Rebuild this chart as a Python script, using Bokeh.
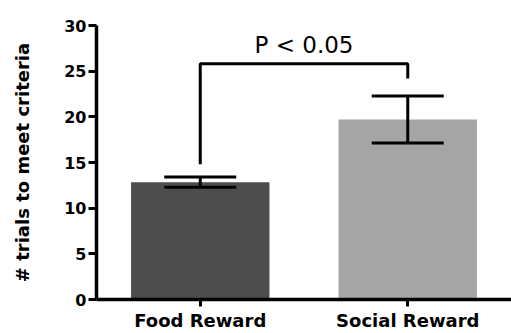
from bokeh.plotting import figure
from bokeh.models import Range1d, FixedTicker, Whisker, ColumnDataSource, Label, TeeHead
from bokeh.embed import file_html
from bokeh.resources import INLINE

# ---- data ----
categories = ["Food Reward", "Social Reward"]
means = [12.85, 19.7]
sems = [0.55, 2.57]
bar_colors = ["#4d4d4d", "#a5a5a5"]
y_ticks = [0, 5, 10, 15, 20, 25, 30]
bracket_ys = [14.8, 25.8, 25.8, 24.2]
p_text = "P < 0.05"
p_text_y = 27.9

x_pos = [i + 0.5 for i in range(len(categories))]

src = ColumnDataSource(dict(
    x=x_pos,
    top=means,
    upper=[m + s for m, s in zip(means, sems)],
    lower=[m - s for m, s in zip(means, sems)],
    color=bar_colors,
))

FONT = "DejaVu Sans"

p = figure(width=511, height=333, output_backend="svg", toolbar_location=None,
           x_range=Range1d(0, 2.0), y_range=Range1d(0, 30),
           min_border_left=96, min_border_top=25, min_border_right=0,
           min_border_bottom=0)

p.vbar(x="x", top="top", width=0.667, bottom=0, fill_color="color",
       line_color=None, source=src)

wh = Whisker(base="x", upper="upper", lower="lower", source=src,
             line_width=3, line_color="black", level="annotation",
             upper_head=TeeHead(size=72, line_width=3, line_color="black"),
             lower_head=TeeHead(size=72, line_width=3, line_color="black"))
p.add_layout(wh)

p.line(x=[x_pos[0], x_pos[0], x_pos[1], x_pos[1]], y=bracket_ys,
       line_width=3, line_color="black")

p.add_layout(Label(x=(x_pos[0] + x_pos[1]) / 2, y=p_text_y, text=p_text,
                   text_align="center", text_baseline="alphabetic",
                   text_font=FONT, text_font_size="23px", text_color="black"))

# axes
p.xgrid.visible = False
p.ygrid.visible = False
p.outline_line_color = None

p.xaxis.ticker = FixedTicker(ticks=x_pos)
p.xaxis.major_label_overrides = {x: c for x, c in zip(x_pos, categories)}
p.xaxis.major_label_text_font = FONT
p.xaxis.major_label_text_font_style = "bold"
p.xaxis.major_label_text_font_size = "18px"
p.xaxis.major_label_text_color = "black"
p.xaxis.major_label_standoff = 3
p.xaxis.major_tick_out = 7
p.xaxis.major_tick_in = 0
p.xaxis.minor_tick_line_color = None
p.xaxis.major_tick_line_width = 3
p.xaxis.axis_line_width = 3.5
p.xaxis.axis_line_color = "black"
p.xaxis.major_tick_line_color = "black"

p.yaxis.ticker = FixedTicker(ticks=y_ticks)
p.yaxis.major_label_text_font = FONT
p.yaxis.major_label_text_font_style = "bold"
p.yaxis.major_label_text_font_size = "16px"
p.yaxis.major_label_text_color = "black"
p.yaxis.major_label_standoff = 2
p.yaxis.major_tick_out = 8
p.yaxis.major_tick_in = 0
p.yaxis.minor_tick_line_color = None
p.yaxis.major_tick_line_width = 3
p.yaxis.axis_line_width = 3.5
p.yaxis.axis_line_color = "black"
p.yaxis.major_tick_line_color = "black"
p.yaxis.axis_label = "# trials to meet criteria"
p.yaxis.axis_label_text_font = FONT
p.yaxis.axis_label_text_font_style = "bold"
p.yaxis.axis_label_text_font_size = "18px"
p.yaxis.axis_label_text_color = "black"
p.yaxis.axis_label_standoff = 28

open("out.html", "w").write(file_html(p, INLINE))
